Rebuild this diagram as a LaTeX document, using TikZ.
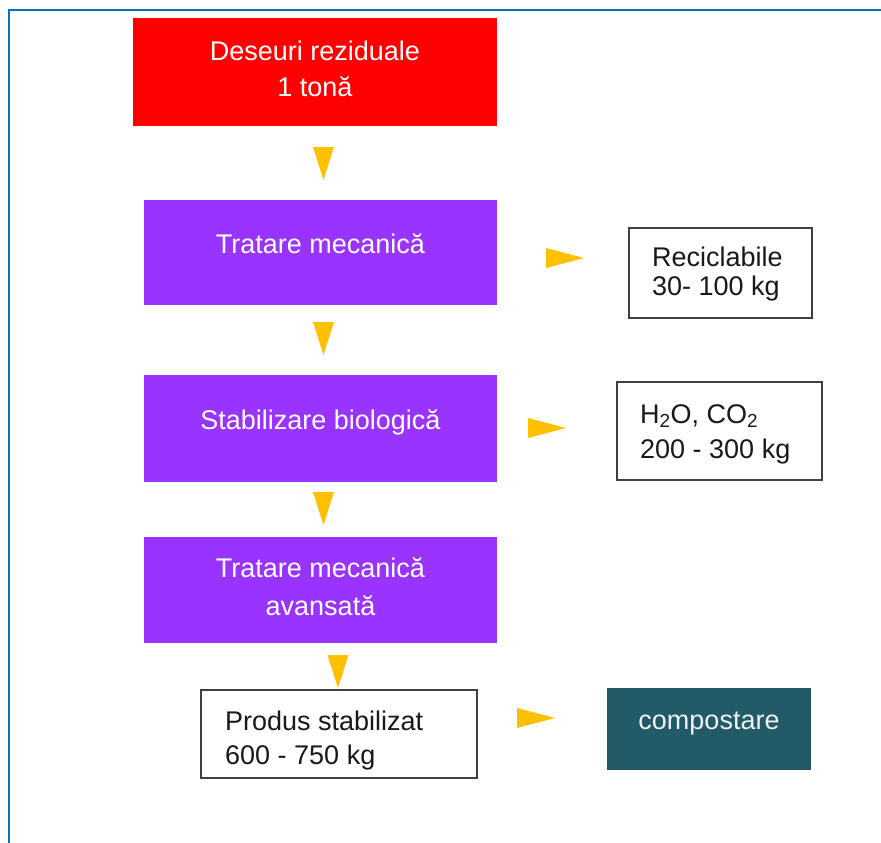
\documentclass[tikz,border=0pt]{standalone}
\usepackage{fontspec}
\setmainfont{Liberation Sans}
\definecolor{redbox}{RGB}{255,0,0}
\definecolor{purplebox}{RGB}{153,51,255}
\definecolor{arrowc}{RGB}{255,192,0}
\definecolor{tealbox}{RGB}{34,90,104}
\definecolor{frameblue}{RGB}{10,112,192}
\definecolor{edgegray}{RGB}{64,64,64}
\begin{document}
\begin{tikzpicture}[x=1pt,y=-1pt,
  box/.style={anchor=north west, inner sep=0pt, outer sep=0pt},
  whitebox/.style={box, fill=white, draw=edgegray, line width=1.2pt},
  txt/.style={inner sep=0pt, anchor=base, font=\fontsize{27}{34}\selectfont},
  ltxt/.style={txt, anchor=base west, text=black!90},
  downtri/.pic={\fill[arrowc] (-10.5,0) -- (10.5,0) -- (0,33) -- cycle;},
  righttri/.pic={\fill[arrowc] (0,-10) -- (0,10) -- (38,0) -- cycle;}]
\useasboundingbox (0,0) rectangle (881,843);
\fill[white] (0,0) rectangle (881,843);
\draw[frameblue, line width=2.5pt] (9,843) -- (9,10) -- (881,10);

% main column
\node[box, fill=redbox, minimum width=364pt, minimum height=108pt] (red) at (133,18) {};
\node[txt, text=white] (redA) at (315,61) {Deseuri reziduale};
\node[txt, text=white] (redB) at (315,96) {1 tonă};

\node[box, fill=purplebox, minimum width=353pt, minimum height=105pt] (p1) at (144,200) {};
\node[txt, text=white] (p1A) at (320.5,253) {Tratare mecanică};

\node[box, fill=purplebox, minimum width=353pt, minimum height=107pt] (p2) at (144,375) {};
\node[txt, text=white] (p2A) at (320.5,429) {Stabilizare biologică};

\node[box, fill=purplebox, minimum width=353pt, minimum height=106pt] (p3) at (144,537) {};
\node[txt, text=white] (p3A) at (320.5,577) {Tratare mecanică};
\node[txt, text=white] (p3B) at (320.5,615) {avansată};

\node[whitebox, minimum width=276pt, minimum height=88pt] (prod) at (201,690) {};
\node[ltxt] (prodA) at (225,730) {Produs stabilizat};
\node[ltxt] (prodB) at (225,764) {600 - 750 kg};

% side column
\node[whitebox, minimum width=183pt, minimum height=90pt] (rec) at (629,228) {};
\node[ltxt] (recA) at (652,266) {Reciclabile};
\node[ltxt] (recB) at (652,295) {30- 100 kg};

\node[whitebox, minimum width=205pt, minimum height=98pt] (gas) at (617,382) {};
\node[ltxt] (gasA) at (640,423) {H\textsubscript{2}O, CO\textsubscript{2}};
\node[ltxt] (gasB) at (640,458) {200 - 300 kg};

\node[box, fill=tealbox, minimum width=204pt, minimum height=82pt] (comp) at (607,688) {};
\node[txt, text=white!92!tealbox] (compA) at (709,729) {compostare};

% arrows
\pic (d1) at (323.5,147) {downtri};
\pic (d2) at (323.5,322) {downtri};
\pic (d3) at (323.5,492) {downtri};
\pic (d4) at (338,655) {downtri};
\pic (r1) at (546,258) {righttri};
\pic (r2) at (528,428) {righttri};
\pic (r3) at (517,718) {righttri};
\end{tikzpicture}
\end{document}
